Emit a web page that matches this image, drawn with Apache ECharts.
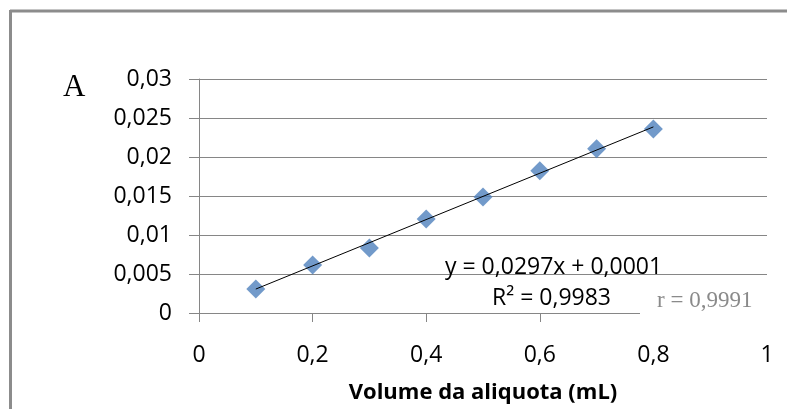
<!DOCTYPE html>
<html>
<head>
<meta charset="utf-8">
<script src="https://cdn.jsdelivr.net/npm/echarts@6/dist/echarts.min.js"></script>
<style>
html,body{margin:0;padding:0;background:#fff;}
#c{width:787px;height:409px;}
</style>
</head>
<body>
<div id="c"></div>
<script>
// Data
var volumes = [0.1, 0.2, 0.3, 0.4, 0.5, 0.6, 0.7, 0.8];
var values = [0.00307, 0.00616, 0.00834, 0.01205, 0.01488, 0.01824, 0.02107, 0.0236];
var trendX = [0.1, 0.8];
var trendY = [0.00307, 0.02386];
var xTicks = [0, 0.2, 0.4, 0.6, 0.8, 1];
var yTicks = [0, 0.005, 0.01, 0.015, 0.02, 0.025, 0.03];
var xTitle = 'Volume da aliquota (mL)';
var eqText = 'y = 0,0297x + 0,0001';
var r2Text = 'R² = 0,9983';
var rText = 'r = 0,9991';
var panelLabel = 'A';

var fmt = function (v) { return String(+v.toFixed(4)).replace('.', ','); };

var chart = echarts.init(document.getElementById('c'), null, {renderer: 'canvas'});
var gray = '#868686';
var sans = '"Open Sans", "Noto Sans", sans-serif';
chart.setOption({
  animation: false,
  backgroundColor: '#fff',
  grid: {left: 199, right: 20, top: 79, bottom: 93, containLabel: false},
  xAxis: {
    type: 'value', min: 0, max: 1, interval: 0.2,
    name: xTitle, nameLocation: 'middle', nameGap: 69,
    nameTextStyle: {fontFamily: sans, fontSize: 22, fontWeight: 'bold', color: '#000'},
    axisLine: {show: true, onZero: false, lineStyle: {color: gray, width: 1}},
    axisTick: {show: true, inside: false, length: 9, lineStyle: {color: gray}},
    axisLabel: {fontFamily: sans, fontSize: 23, color: '#000', margin: 31, formatter: fmt},
    splitLine: {show: false}
  },
  yAxis: {
    type: 'value', min: 0, max: 0.03, interval: 0.005,
    axisLine: {show: true, lineStyle: {color: gray, width: 1}},
    axisTick: {show: true, inside: false, length: 10, lineStyle: {color: gray}},
    axisLabel: {fontFamily: sans, fontSize: 23, color: '#000', margin: 27, formatter: fmt},
    splitLine: {show: true, lineStyle: {color: gray, width: 1}}
  },
  series: [
    {
      type: 'line', data: trendX.map(function (x, i) { return [x, trendY[i]]; }),
      symbol: 'none', lineStyle: {color: '#000', width: 1}, z: 3, silent: true
    },
    {
      type: 'scatter', data: volumes.map(function (x, i) { return [x, values[i]]; }),
      symbol: 'diamond', symbolSize: 19, itemStyle: {color: '#4f81bd'}, z: 2
    }
  ],
  graphic: [
    {type: 'rect', left: 640, top: 288, shape: {width: 147, height: 40}, style: {fill: '#fff'}, z: 50},
    {type: 'text', left: 657, top: 289, style: {text: rText, font: '23px "Liberation Serif", serif', fill: '#8a8a8a'}, z: 51},
    {type: 'text', left: 445, top: 256, style: {text: eqText, font: '23px ' + sans, fill: '#000'}, z: 51},
    {type: 'text', left: 492, top: 287, style: {text: r2Text, font: '23px ' + sans, fill: '#000'}, z: 51},
    {type: 'text', left: 63, top: 72, style: {text: panelLabel, font: '31px "Liberation Serif", serif', fill: '#000'}, z: 51},
    {type: 'line', shape: {x1: 10, y1: 11, x2: 787, y2: 11}, style: {stroke: '#8c8c8c', lineWidth: 3}, z: 60},
    {type: 'line', shape: {x1: 10.5, y1: 10, x2: 10.5, y2: 409}, style: {stroke: '#8c8c8c', lineWidth: 3}, z: 60}
  ]
});
</script>
</body>
</html>
